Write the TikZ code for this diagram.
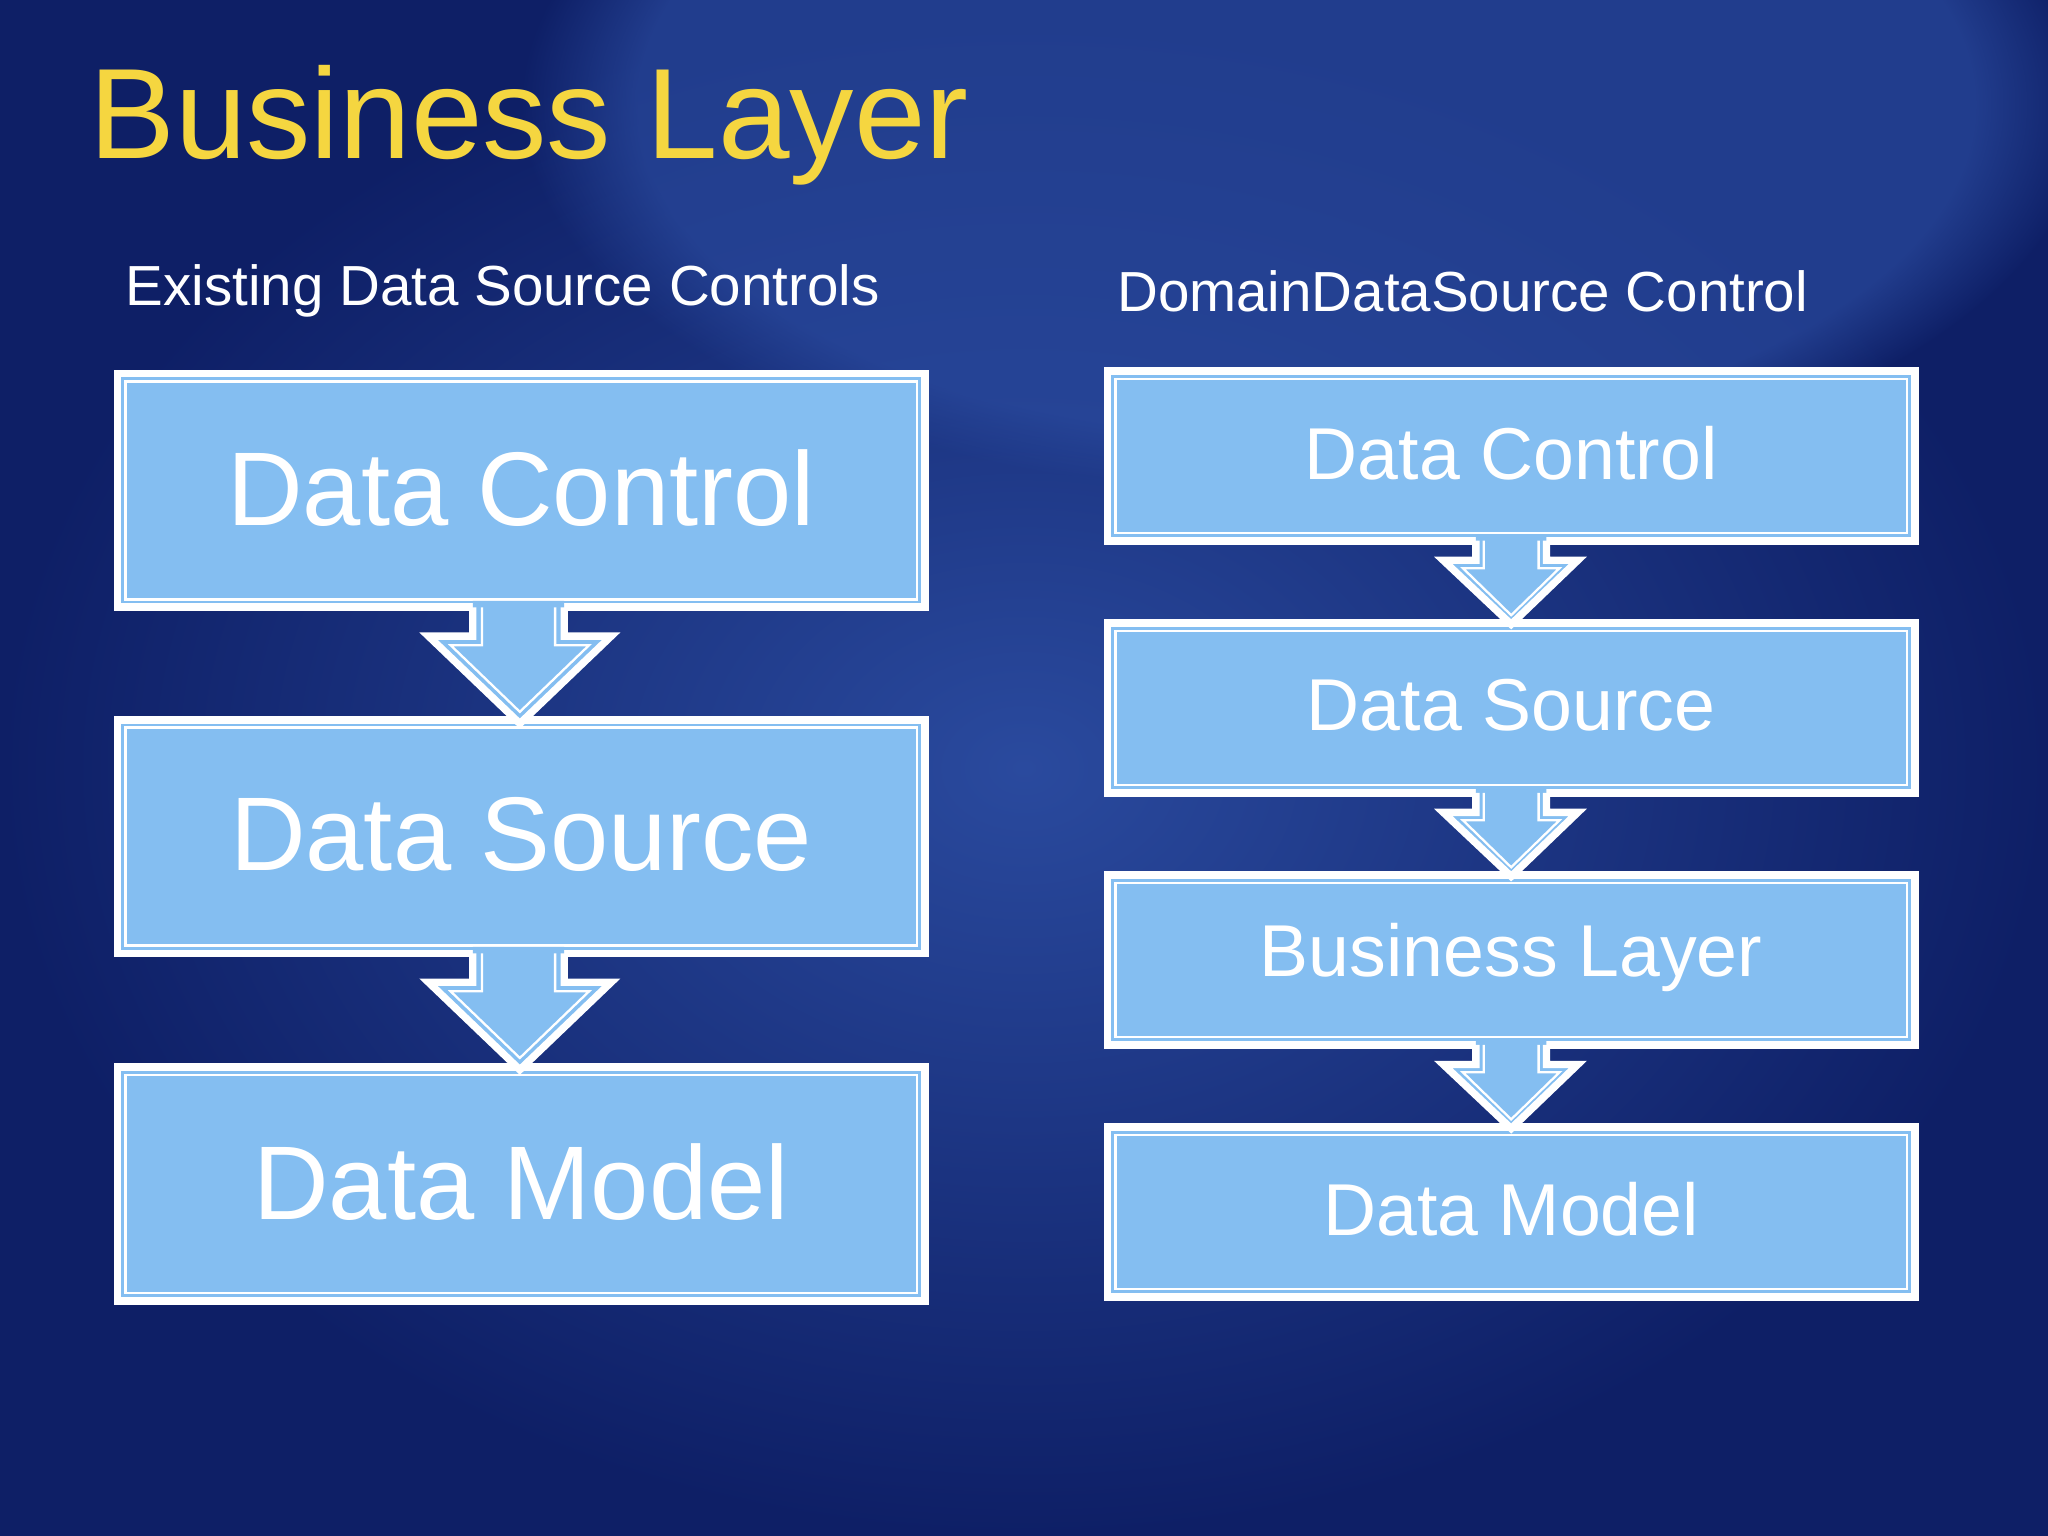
\documentclass[tikz,border=0pt]{standalone}
\usepackage{fontspec}
\setmainfont{Liberation Sans}
\usetikzlibrary{fadings}
\begin{document}
\begin{tikzpicture}[x=0.01cm,y=-0.01cm]
\definecolor{bx}{HTML}{84BEF1}
\definecolor{bgd}{HTML}{0E1F66}
\definecolor{bgm}{HTML}{2A4A9E}
\definecolor{ttl}{HTML}{F5D640}
\tikzset{
 box/.style={draw=white,line width=1.7pt,fill=bx},
 inner/.style={draw=white,line width=0.5pt},
 arr/.style={fill=bx},
 arrline/.style={draw=white,line width=1.6pt,line join=miter},
 big/.style={text=white,font=\fontsize{22.8}{26}\selectfont},
 small/.style={text=white,font=\fontsize{16}{19}\selectfont},
 sub/.style={text=white,font=\fontsize{12.3}{15}\selectfont,anchor=west},
}
\useasboundingbox (0,0) rectangle (1568,1176);
\fill[inner color=bgm,outer color=bgd] (0,0) rectangle (1568,1176);
\fill[bgm,path fading=circle with fuzzy edge 15 percent,opacity=0.7] (1000,80) ellipse (600 and 300);
\node[anchor=west,font=\fontsize{28}{32}\selectfont,text=ttl] (title) at (56,96) {Business Layer};
\node[sub] (s1) at (84,223) {Existing Data Source Controls};
\node[sub] (s2) at (843,223) {DomainDataSource Control};
% left column
\foreach \n/\t/\y in {l1/Data Control/286,l2/Data Source/551,l3/Data Model/817}{
 \draw[box] (90,\y) rectangle (708,\y+179);
 \draw[inner] (96,\y+6) rectangle (702,\y+173);
 \node[big] (\n) at (399,\y+88) {\t};
}
\foreach \y in {465,730}{
 \fill[arr] (362,\y-5) -- (362,\y+22) -- (328,\y+22) -- (398,\y+89) -- (468,\y+22) -- (432,\y+22) -- (432,\y-5) -- cycle;
 \draw[arrline] (362,\y) -- (362,\y+22) -- (328,\y+22) -- (398,\y+89) -- (468,\y+22) -- (432,\y+22) -- (432,\y);
 \draw[white,line width=0.5pt] (369,\y) -- (369,\y+29) -- (345,\y+29) -- (398,\y+80) -- (451,\y+29) -- (425,\y+29) -- (425,\y);
}
% right column
\foreach \n/\t/\y in {r1/Data Control/284,r2/Data Source/477,r3/Business Layer/670,r4/Data Model/863}{
 \draw[box] (848,\y) rectangle (1466,\y+130);
 \draw[inner] (854,\y+6) rectangle (1460,\y+124);
 \node[small] (\n) at (1157,\y+63) {\t};
}
\foreach \y in {414,607,800}{
 \fill[arr] (1130,\y-5) -- (1130,\y+15) -- (1105,\y+15) -- (1157,\y+64) -- (1208,\y+15) -- (1184,\y+15) -- (1184,\y-5) -- cycle;
 \draw[arrline] (1130,\y) -- (1130,\y+15) -- (1105,\y+15) -- (1157,\y+64) -- (1208,\y+15) -- (1184,\y+15) -- (1184,\y);
 \draw[white,line width=0.5pt] (1136,\y) -- (1136,\y+21) -- (1120,\y+21) -- (1157,\y+57) -- (1194,\y+21) -- (1178,\y+21) -- (1178,\y);
}
\end{tikzpicture}
\end{document}
